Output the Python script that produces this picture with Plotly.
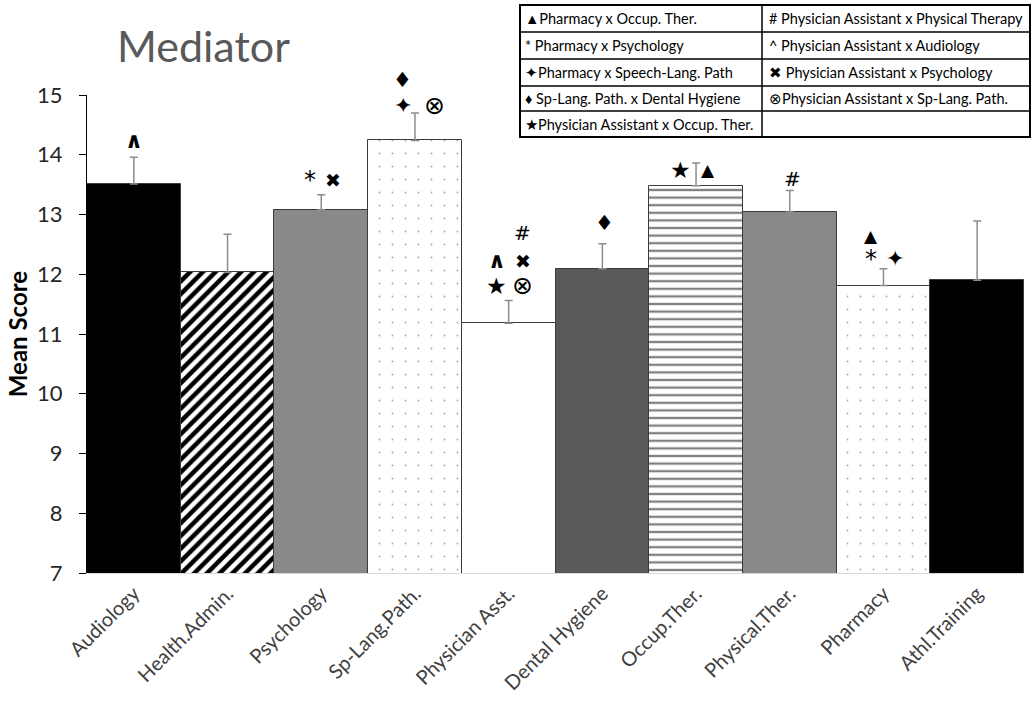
import plotly.graph_objects as go

# ---------------- data ----------------
categories = ["Audiology", "Health.Admin.", "Psychology", "Sp-Lang.Path.", "Physician Asst.",
              "Dental Hygiene", "Occup.Ther.", "Physical.Ther.", "Pharmacy", "Athl.Training"]
mean_scores = [13.51, 12.03, 13.08, 14.24, 11.18, 12.09, 13.48, 13.04, 11.81, 11.90]
error_up = [0.45, 0.64, 0.25, 0.46, 0.38, 0.42, 0.38, 0.36, 0.28, 0.99]
y_ticks = [7, 8, 9, 10, 11, 12, 13, 14, 15]

# significance symbols attached to bars (category, symbol)
sig_marks = [
    ("Audiology", "^"),
    ("Psychology", "*"), ("Psychology", "✖"),
    ("Sp-Lang.Path.", "✦"), ("Sp-Lang.Path.", "⊗"), ("Sp-Lang.Path.", "♦"),
    ("Physician Asst.", "★"), ("Physician Asst.", "⊗"), ("Physician Asst.", "^"),
    ("Physician Asst.", "✖"), ("Physician Asst.", "#"),
    ("Dental Hygiene", "♦"),
    ("Occup.Ther.", "★"), ("Occup.Ther.", "▲"),
    ("Physical.Ther.", "#"),
    ("Pharmacy", "*"), ("Pharmacy", "✦"), ("Pharmacy", "▲"),
]

legend_left = ["▲Pharmacy x Occup. Ther.", "* Pharmacy x Psychology", "✦Pharmacy x Speech-Lang. Path",
               "♦ Sp-Lang. Path. x Dental Hygiene", "★Physician Assistant x Occup. Ther."]
legend_right = ["# Physician Assistant x Physical Therapy", "^ Physician Assistant x Audiology",
                "✖ Physician Assistant x Psychology", "⊗Physician Assistant x Sp-Lang. Path.", ""]

# ---------------- styles ----------------
bar_colors = ["#000000", "#ffffff", "#898989", "#ffffff", "#ffffff",
              "#595959", "#ffffff", "#898989", "#ffffff", "#000000"]
pat_shape = ["", "/", "", ".", "", "", "-", "", ".", ""]
pat_fg = ["#000000", "#000000", "#000000", "#a8a8a8", "#000000",
          "#000000", "#808080", "#000000", "#a8a8a8", "#000000"]
pat_size = [8, 9, 8, 13, 8, 8, 7.6, 8, 13, 8]
pat_sol = [0.3, 0.5, 0.3, 0.015, 0.3, 0.3, 0.3, 0.3, 0.015, 0.3]

# offsets (px) of symbol centres relative to top of error bar
sig_offsets = {
    ("Audiology", "^"): (0, 17),
    ("Psychology", "*"): (-11, 15), ("Psychology", "✖"): (12, 15),
    ("Sp-Lang.Path.", "✦"): (-12, 7), ("Sp-Lang.Path.", "⊗"): (20, 7), ("Sp-Lang.Path.", "♦"): (-12, 33),
    ("Physician Asst.", "★"): (-12, 15), ("Physician Asst.", "⊗"): (14, 15),
    ("Physician Asst.", "^"): (-12, 40), ("Physician Asst.", "✖"): (14, 40),
    ("Physician Asst.", "#"): (14, 68),
    ("Dental Hygiene", "♦"): (2, 21),
    ("Occup.Ther.", "★"): (-16, -7), ("Occup.Ther.", "▲"): (12, -7),
    ("Physical.Ther.", "#"): (3, 12),
    ("Pharmacy", "*"): (-12, 10), ("Pharmacy", "✦"): (12, 10), ("Pharmacy", "▲"): (-12, 33),
}
sig_sizes = {"^": 22, "*": 24, "✖": 19, "✦": 22, "⊗": 25, "♦": 21, "★": 23, "#": 20, "▲": 17}

W, H = 1034, 702
ML, MR, MT, MB = 87, 10, 95, 129
PW, PH = W - ML - MR, H - MT - MB


def px2x(px):
    return (px - ML) / PW


def py2y(py):
    return (H - MB - py) / PH


fig = go.Figure()
for i, cat in enumerate(categories):
    pattern = dict(shape=pat_shape[i], fgcolor=pat_fg[i], bgcolor=bar_colors[i],
                   size=pat_size[i], solidity=pat_sol[i], fillmode="replace") if pat_shape[i] else dict(shape="")
    fig.add_trace(go.Bar(
        x=[cat], y=[mean_scores[i]],
        marker=dict(color=bar_colors[i], line=dict(color="#3a3a3a", width=1), pattern=pattern),
        error_y=dict(type="data", symmetric=False, array=[error_up[i]], arrayminus=[0],
                     color="#8c8c8c", thickness=1.5, width=4),
        showlegend=False,
    ))

annotations = []
for cat, sym in sig_marks:
    i = categories.index(cat)
    dx, dy = sig_offsets[(cat, sym)]
    txt = "<b>∧</b>" if sym == "^" else sym
    annotations.append(dict(
        x=cat, y=mean_scores[i] + error_up[i], xref="x", yref="y",
        text=txt, showarrow=False, xshift=dx, yshift=dy,
        xanchor="center", yanchor="middle",
        font=dict(family="DejaVu Sans", size=sig_sizes[sym], color="#000000"),
    ))

# title
annotations.append(dict(
    x=px2x(115), y=py2y(45), xref="paper", yref="paper", text="Mediator",
    showarrow=False, xanchor="left", yanchor="middle",
    font=dict(family="Lato", size=43, color="#595959"),
))

# legend table
tab_l, tab_r, tab_mid = 520, 1030, 762
row_edges = [5, 32, 59, 86, 111, 137]
shapes = [dict(type="rect", xref="paper", yref="paper",
               x0=px2x(tab_l), x1=px2x(tab_r), y0=py2y(row_edges[0]), y1=py2y(row_edges[-1]),
               line=dict(color="#000000", width=2), fillcolor="rgba(0,0,0,0)")]
for ry in row_edges[1:-1]:
    shapes.append(dict(type="line", xref="paper", yref="paper",
                       x0=px2x(tab_l), x1=px2x(tab_r), y0=py2y(ry), y1=py2y(ry),
                       line=dict(color="#000000", width=1.5)))
shapes.append(dict(type="line", xref="paper", yref="paper",
                   x0=px2x(tab_mid), x1=px2x(tab_mid), y0=py2y(row_edges[0]), y1=py2y(row_edges[-1]),
                   line=dict(color="#000000", width=1.5)))
for r in range(5):
    cy = (row_edges[r] + row_edges[r + 1]) / 2
    for txt, x0 in ((legend_left[r], tab_l + 3), (legend_right[r], tab_mid + 5)):
        if txt:
            annotations.append(dict(
                x=px2x(x0), y=py2y(cy), xref="paper", yref="paper", text=txt,
                showarrow=False, xanchor="left", yanchor="middle",
                font=dict(family="Lato", size=14.5, color="#000000"),
            ))

fig.update_layout(
    width=W, height=H,
    margin=dict(l=ML, r=MR, t=MT, b=MB, autoexpand=False),
    paper_bgcolor="#ffffff", plot_bgcolor="#ffffff",
    barmode="overlay", bargap=0,
    font=dict(family="Lato", color="#404040"),
    annotations=annotations,
    shapes=shapes,
    xaxis=dict(
        tickangle=-45, tickfont=dict(family="Lato", size=20, color="#404040"),
        showline=True, linecolor="#d9d9d9", linewidth=1, ticks="", showgrid=False,
        zeroline=False, automargin=False,
    ),
    yaxis=dict(
        range=[7, 15], tickvals=y_ticks, ticktext=[str(t) for t in y_ticks],
        tickfont=dict(family="Lato", size=22, color="#262626"),
        ticks="outside", ticklen=7, tickcolor="#000000", tickwidth=1,
        showline=True, linecolor="#000000", linewidth=1, showgrid=False, zeroline=False,
        ticklabelstandoff=12,
        title=dict(text="<b>Mean Score</b>", font=dict(family="Lato", size=24, color="#000000"),
                   standoff=2),
        automargin=False,
    ),
)

fig.write_html("out.html")
